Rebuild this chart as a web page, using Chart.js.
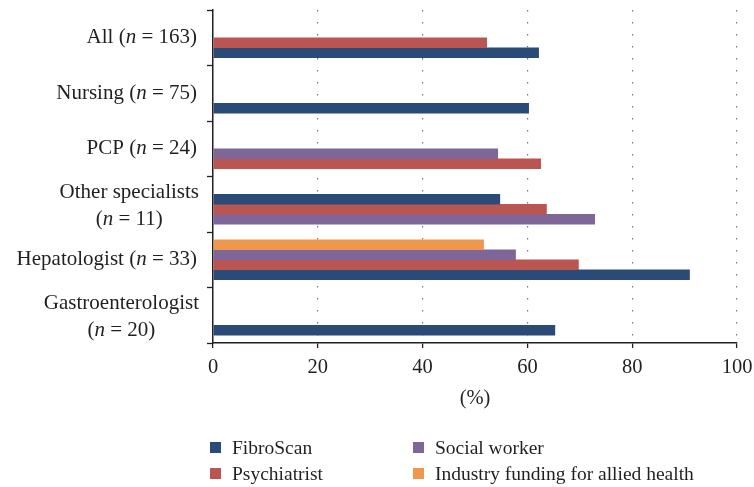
<!DOCTYPE html>
<html>
<head>
<meta charset="utf-8">
<script src="https://cdn.jsdelivr.net/npm/chart.js@4"></script>
<style>
  html, body { margin: 0; padding: 0; background: #fff; }
  #wrap { position: relative; width: 754px; height: 487px; }
  #legend { position: absolute; left: 210px; top: 436px; font: 19.5px "Liberation Serif", serif; color: #231f20; }
  .item { position: absolute; white-space: nowrap; height: 24px; line-height: 24px; }
  .box { position: absolute; left: 0; top: 6px; width: 11px; height: 11px; }
  .txt { position: absolute; left: 22px; top: 0; }
</style>
</head>
<body>
<div id="wrap">
  <canvas id="chart" width="754" height="487"></canvas>
  <div id="legend"></div>
</div>
<script>
// categories, top to bottom
const categories = ['All', 'Nursing', 'PCP', 'Other specialists', 'Hepatologist', 'Gastroenterologist'];
const sampleSizes = [163, 75, 24, 11, 33, 20];

// % of respondents per series (null = no bar)
const seriesNames = ['FibroScan', 'Psychiatrist', 'Social worker', 'Industry funding for allied health'];
const fibroScan       = [62.2, 60.3, null, 54.8, 91.0, 65.3];
const psychiatrist    = [52.3, null, 62.6, 63.7, 69.8, null];
const socialWorker    = [null, null, 54.4, 72.9, 57.8, null];
const industryFunding = [null, null, null, null, 51.7, null];
const seriesColors = ['#2a4a78', '#bb5552', '#7f6699', '#f0974f'];

const xTicks = [0, 20, 40, 60, 80, 100];
const xTitle = '(%)';

const ink = '#231f20';
const fontFamily = '"Liberation Serif", serif';

// the bars in each group are sorted by value (smallest on top) and packed at the bottom,
// so build one dataset per slot instead of one per series
const seriesValues = [fibroScan, psychiatrist, socialWorker, industryFunding];
const slotCount = seriesValues.length;
const slots = [];
for (let k = 0; k < slotCount; k++) slots.push({ data: [], backgroundColor: [], series: [] });

categories.forEach((c, i) => {
  const present = seriesValues
    .map((vals, s) => ({ s, v: vals[i] }))
    .filter(e => e.v != null)
    .sort((a, b) => a.v - b.v);
  const pad = slotCount - present.length;
  for (let k = 0; k < slotCount; k++) {
    const e = k < pad ? null : present[k - pad];
    slots[k].data.push(e ? e.v : null);
    slots[k].backgroundColor.push(e ? seriesColors[e.s] : 'transparent');
    slots[k].series.push(e ? e.s : null);
  }
});

const datasets = slots.map((sl, k) => ({
  label: 'slot ' + (k + 1),
  data: sl.data,
  backgroundColor: sl.backgroundColor,
  series: sl.series,
  borderWidth: 0,
  categoryPercentage: 0.72,
  barPercentage: 1.06
}));

// category labels with italic n, wrapped when too wide
const catLabels = {
  id: 'catLabels',
  afterDraw(chart) {
    const ctx = chart.ctx;
    const y = chart.scales.y;
    const right = y.right - y.options.grid.tickLength - 10;
    const normal = '21px ' + fontFamily;
    const italic = 'italic 21px ' + fontFamily;
    const lineH = 27;

    const width = parts => parts.reduce((w, p) => {
      ctx.font = p[1] ? italic : normal;
      return w + ctx.measureText(p[0]).width;
    }, 0);
    const drawParts = (parts, x, yy) => {
      parts.forEach(p => {
        ctx.font = p[1] ? italic : normal;
        ctx.fillText(p[0], x, yy);
        x += ctx.measureText(p[0]).width;
      });
    };

    ctx.save();
    ctx.fillStyle = ink;
    ctx.textBaseline = 'middle';
    ctx.textAlign = 'left';
    categories.forEach((name, i) => {
      const yc = y.getPixelForTick(i);
      const nPart = [['(', false], ['n', true], [' = ' + sampleSizes[i] + ')', false]];
      const single = [[name + ' ', false]].concat(nPart);
      const sw = width(single);
      if (sw <= right - 8) {
        drawParts(single, right - sw, yc);
      } else {
        const lines = [[[name, false]], nPart];
        const ws = lines.map(width);
        const mid = right + 2 - Math.max(...ws) / 2;
        lines.forEach((ln, j) => {
          drawParts(ln, mid - ws[j] / 2, yc + 2 + (j - (lines.length - 1) / 2) * lineH);
        });
      }
    });
    ctx.restore();
  }
};

new Chart(document.getElementById('chart'), {
  type: 'bar',
  data: {
    labels: categories.map((c, i) => c + ' (n = ' + sampleSizes[i] + ')'),
    datasets: datasets
  },
  options: {
    indexAxis: 'y',
    responsive: false,
    animation: false,
    layout: { padding: { left: 0, right: 17, top: 10, bottom: 74 } },
    plugins: {
      legend: { display: false },
      tooltip: {
        callbacks: {
          label: c => seriesNames[c.dataset.series[c.dataIndex]] + ': ' + c.parsed.x + '%'
        }
      }
    },
    scales: {
      x: {
        min: 0,
        max: 100,
        afterBuildTicks: s => { s.ticks = xTicks.map(v => ({ value: v })); },
        afterFit: s => { s.height = 70; s.paddingLeft = 0; s.paddingRight = 0; },
        grid: {
          color: c => (c.tick && c.tick.value === 0) ? 'rgba(0,0,0,0)' : '#777',
          lineWidth: 1.2,
          tickColor: ink,
          tickLength: 5,
          tickWidth: 1.3
        },
        border: { display: true, color: ink, width: 1.5, dash: [1.5, 10.5] },
        ticks: { color: ink, font: { family: fontFamily, size: 20.5 }, padding: 7 },
        title: {
          display: true,
          text: xTitle,
          color: ink,
          font: { family: fontFamily, size: 20.5 },
          padding: { top: 0, bottom: 2 }
        }
      },
      y: {
        afterFit: s => { s.width = 213; },
        grid: {
          drawOnChartArea: false,
          drawTicks: true,
          tickLength: 6,
          tickColor: ink,
          tickWidth: 1.3,
          offset: true
        },
        border: { display: true, color: ink, width: 1.5 },
        ticks: { display: false }
      }
    }
  },
  plugins: [catLabels]
});

// legend: two columns, filled down first
const legend = document.getElementById('legend');
const perCol = 2;
seriesNames.forEach((name, s) => {
  const item = document.createElement('div');
  item.className = 'item';
  item.style.left = (Math.floor(s / perCol) * 203) + 'px';
  item.style.top = ((s % perCol) * 26) + 'px';
  item.innerHTML = '<span class="box" style="background:' + seriesColors[s] + '"></span><span class="txt"></span>';
  item.querySelector('.txt').textContent = name;
  legend.appendChild(item);
});
</script>
</body>
</html>
